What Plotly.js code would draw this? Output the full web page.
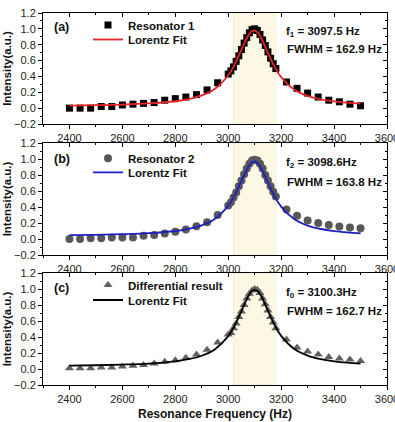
<!DOCTYPE html>
<html>
<head>
<meta charset="utf-8">
<script src="https://cdn.plot.ly/plotly-3.0.1.min.js"></script>
<style>html,body{margin:0;padding:0;background:#fff;}#chart{width:395px;height:422px;}</style>
</head>
<body>
<div id="chart"></div>
<script>
// Measured frequencies (Hz), shared by the three data sets
var freq = [2400,2440,2480,2520,2560,2600,2640,2680,2720,2760,2800,2840,2880,2920,2960,
            3000,3010,3020,3030,3040,3050,3060,3070,3080,3090,3100,3110,3120,3130,3140,3150,3160,3170,3180,
            3220,3260,3300,3340,3380,3420,3460,3500];
var resonator1 = [0.00,0.00,0.00,0.02,0.02,0.04,0.05,0.06,0.07,0.10,0.12,0.14,0.17,0.23,0.32,
                  0.43,0.47,0.52,0.59,0.66,0.74,0.82,0.89,0.95,0.99,1.00,0.98,0.93,0.86,0.79,0.71,0.63,0.56,0.50,
                  0.33,0.25,0.19,0.14,0.10,0.08,0.05,0.03];
var resonator2 = [0.00,0.00,0.01,0.01,0.02,0.02,0.02,0.04,0.05,0.07,0.09,0.12,0.16,0.21,0.30,
                  0.42,0.46,0.52,0.58,0.66,0.73,0.81,0.88,0.94,0.98,0.99,0.98,0.94,0.88,0.80,0.73,0.66,0.59,0.53,
                  0.37,0.29,0.23,0.20,0.175,0.155,0.145,0.135];
var differential = [0.01,0.01,0.01,0.02,0.02,0.03,0.04,0.05,0.07,0.09,0.11,0.14,0.18,0.24,0.33,
                     0.43,0.45,0.51,0.57,0.65,0.72,0.80,0.88,0.94,0.98,1.00,0.99,0.95,0.88,0.81,0.73,0.65,0.58,0.51,
                     0.37,0.27,0.22,0.18,0.15,0.13,0.12,0.10];

// Lorentz fit curves
var fitFreq = [2400,2500,2600,2700,2800,2850,2900,2950,3000,3025,3050,3075,3088,3100,3112,3125,3150,3175,3200,3250,3300,3350,3400,3450,3500];
var fit1 = [0.033,0.038,0.045,0.059,0.087,0.114,0.160,0.245,0.415,0.556,0.737,0.912,0.967,0.979,0.951,0.882,0.698,0.524,0.392,0.233,0.154,0.111,0.085,0.069,0.058];
var fit2 = [0.048,0.052,0.060,0.073,0.100,0.127,0.171,0.253,0.417,0.552,0.727,0.898,0.955,0.970,0.946,0.882,0.706,0.535,0.404,0.247,0.168,0.125,0.099,0.083,0.072];
var fit0 = [0.043,0.047,0.055,0.068,0.096,0.122,0.166,0.248,0.411,0.547,0.724,0.905,0.969,0.990,0.971,0.909,0.729,0.551,0.414,0.249,0.167,0.122,0.096,0.079,0.068];

var panelLabels = ['(a)','(b)','(c)'];
var dataNames = ['Resonator 1','Resonator 2','Differential result'];
var fitName = 'Lorentz Fit';
var peakTexts = ['f<sub>1</sub> = 3097.5 Hz','f<sub>2</sub> = 3098.6Hz','f<sub>0</sub> = 3100.3Hz'];
var fwhmTexts = ['FWHM = 162.9 Hz','FWHM = 163.8 Hz','FWHM = 162.7 Hz'];
var band = [3020, 3180];
var yTitle = 'Intensity(a.u.)';
var xTitle = 'Resonance Frequency (Hz)';

var FONT = 'Liberation Sans, Arial, sans-serif';
var dataSets = [resonator1, resonator2, differential];
var fits = [fit1, fit2, fit0];
var markerStyles = [
  {symbol:'square', size:7, color:'#000000'},
  {symbol:'circle', size:8, color:'#585858'},
  {symbol:'triangle-up', size:8, color:'#616161'}
];
var lineColors = ['#e8242b','#1f1fbf','#000000'];

// pixel helpers -> paper coords (plot area: x 43..387, y 13..385)
function px(x){ return (x-43)/344; }
function py(y){ return (385-y)/372; }

var domains = [[py(124),1],[py(255),py(143)],[0,py(273)]];
var legendRows = [[25,39.5],[158.3,172.3],[285,300]];
var labelRows = [27,159,288];
var textRows = [[31.7,49.3],[163.3,181.7],[293.3,310.7]];

var traces = [];
var layout = {
  width:395, height:422,
  margin:{l:43,r:8,t:13,b:37},
  showlegend:true,
  paper_bgcolor:'#fff', plot_bgcolor:'#fff',
  font:{family:FONT, size:11, color:'#222'},
  shapes:[], annotations:[]
};

for (var i=0;i<3;i++){
  var n = i+1;
  var xs = n===1?'x':'x'+n, ys = n===1?'y':'y'+n;
  var xk = n===1?'xaxis':'xaxis'+n, yk = n===1?'yaxis':'yaxis'+n;
  var lg1 = i===0?'legend':'legend'+(2*i+1);
  var lg2 = 'legend'+(2*i+2);
  traces.push({x:freq, y:dataSets[i], type:'scatter', mode:'markers', name:dataNames[i],
    xaxis:xs, yaxis:ys, legend:lg1, showlegend:true, marker:markerStyles[i]});
  traces.push({x:fitFreq, y:fits[i], type:'scatter', mode:'lines', name:fitName,
    xaxis:xs, yaxis:ys, legend:lg2, showlegend:true, line:{color:lineColors[i], width:1.8, shape:'spline', smoothing:1}});

  layout[xk] = {domain:[0,1], anchor:ys, range:[2300,3600], tick0:2400, dtick:200,
    ticks:'outside', ticklen:4, tickwidth:1, tickcolor:'#000', showline:true, linecolor:'#000', linewidth:1,
    showgrid:false, zeroline:false, ticklabeloverflow:'allow', tickfont:{family:FONT,size:11,color:'#222'},
    minor:{dtick:100, ticks:'outside', ticklen:2, tickcolor:'#000', showgrid:false}};
  layout[yk] = {domain:domains[i], anchor:xs, range:[-0.2,1.2], tick0:0, dtick:0.2, tickformat:'.1f',
    ticks:'outside', ticklen:4, tickwidth:1, tickcolor:'#000', showline:true, linecolor:'#000', linewidth:1,
    showgrid:false, zeroline:false, tickfont:{family:FONT,size:11,color:'#222'},
    minor:{dtick:0.1, ticks:'outside', ticklen:2, tickcolor:'#000', showgrid:false},
    title:{text:yTitle, font:{family:FONT,size:11.5,weight:'bold',color:'#111'}, standoff:0}};
  if (i===2) layout[xk].title = {text:xTitle, font:{family:FONT,size:12,weight:'bold',color:'#111'}, standoff:5};

  // mirrored axes (top / right) with inward ticks
  var ox = 'x'+(n+3), oy = 'y'+(n+3);
  layout['xaxis'+(n+3)] = {overlaying:xs, anchor:ys, side:'top', range:[2300,3600], tick0:2400, dtick:200,
    ticks:'inside', ticklen:4, tickcolor:'#000', showticklabels:false, showline:true, linecolor:'#000', linewidth:1,
    showgrid:false, zeroline:false, minor:{dtick:100, ticks:'inside', ticklen:2, tickcolor:'#000'}};
  layout['yaxis'+(n+3)] = {overlaying:ys, anchor:xs, side:'right', range:[-0.2,1.2], tick0:0, dtick:0.2,
    ticks:'inside', ticklen:4, tickcolor:'#000', showticklabels:false, showline:true, linecolor:'#000', linewidth:1,
    showgrid:false, zeroline:false, minor:{dtick:0.1, ticks:'inside', ticklen:2, tickcolor:'#000'}};
  traces.push({x:[], y:[], type:'scatter', mode:'markers', xaxis:ox, yaxis:oy, showlegend:false, hoverinfo:'skip'});

  layout.shapes.push({type:'rect', xref:xs, yref:ys+' domain', x0:band[0], x1:band[1], y0:0, y1:1,
    fillcolor:'#fcf8e4', line:{color:'#f3edd2', width:1}, layer:'below'});

  var lfont = {family:FONT, size:11.5, weight:'bold', color:'#111'};
  layout[lg1] = {visible:true, x:px(88), y:py(legendRows[i][0]), xanchor:'left', yanchor:'middle', bgcolor:'rgba(0,0,0,0)', font:lfont, borderwidth:0};
  layout[lg2] = {visible:true, x:px(88), y:py(legendRows[i][1]), xanchor:'left', yanchor:'middle', bgcolor:'rgba(0,0,0,0)', font:lfont, borderwidth:0};

  layout.annotations.push({xref:'paper', yref:'paper', x:px(52), y:py(labelRows[i]), xanchor:'left', yanchor:'middle',
    text:panelLabels[i], showarrow:false, font:{family:FONT,size:12.5,weight:'bold',color:'#111'}});
  layout.annotations.push({xref:'paper', yref:'paper', x:px(284), y:py(textRows[i][0]), xanchor:'left', yanchor:'middle',
    text:peakTexts[i], showarrow:false, font:{family:FONT,size:11.5,weight:'bold',color:'#111'}});
  layout.annotations.push({xref:'paper', yref:'paper', x:px(285), y:py(textRows[i][1]), xanchor:'left', yanchor:'middle',
    text:fwhmTexts[i], showarrow:false, font:{family:FONT,size:11.5,weight:'bold',color:'#111'}});
}

Plotly.newPlot('chart', traces, layout, {staticPlot:true, displayModeBar:false});
</script>
</body>
</html>
